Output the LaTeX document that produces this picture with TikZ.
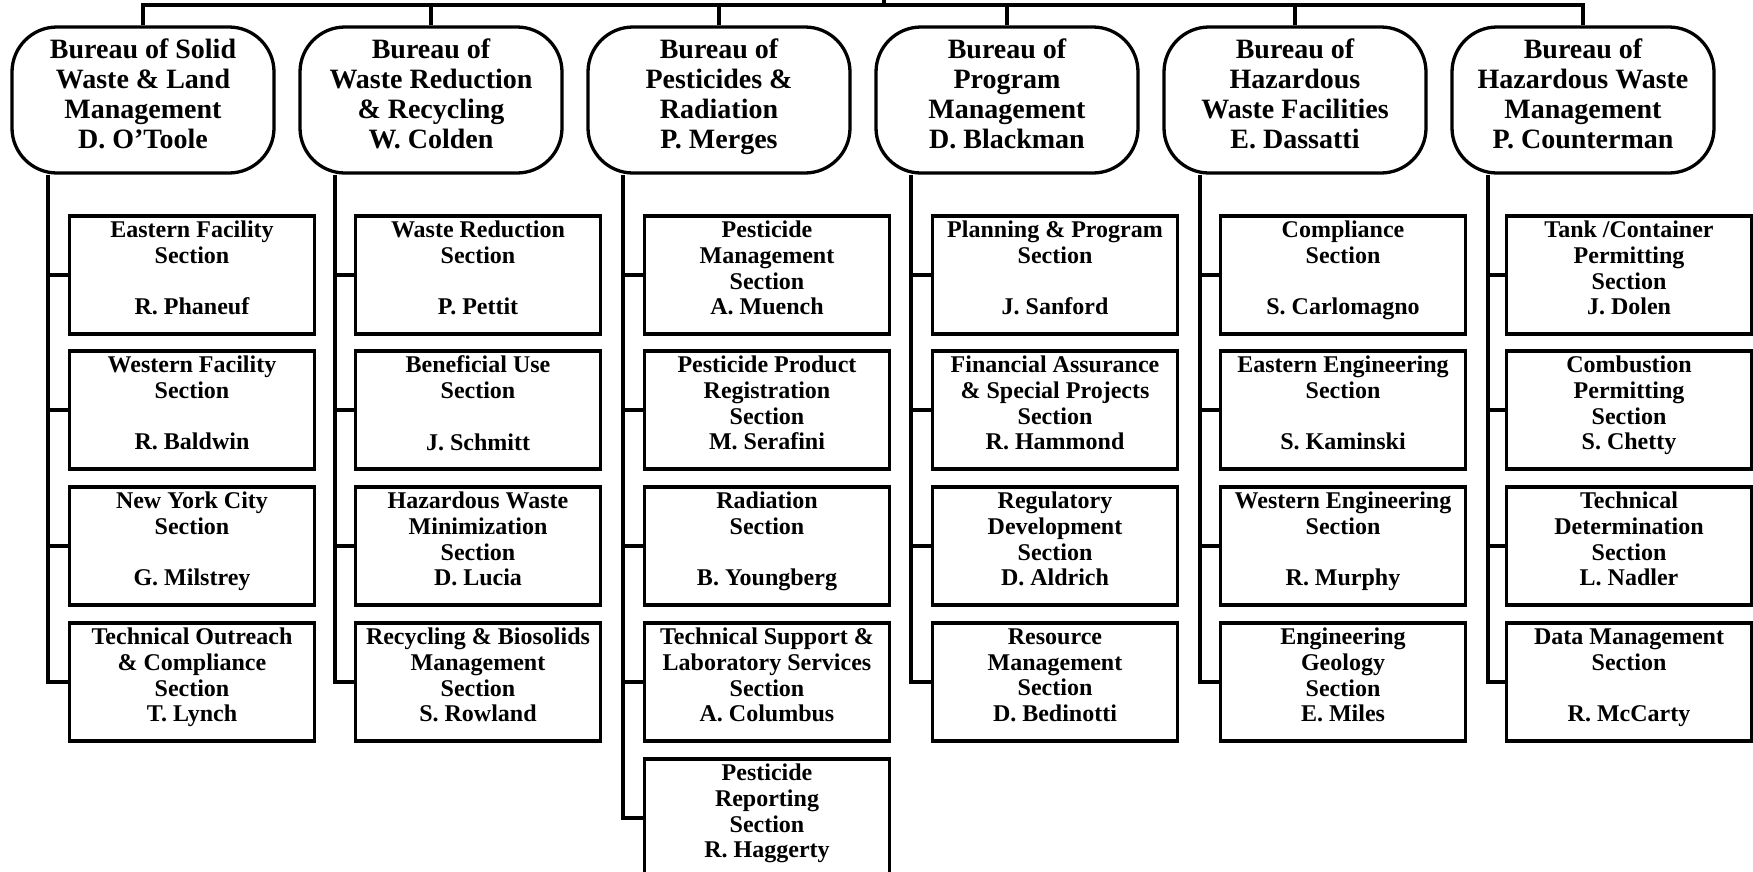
\documentclass[tikz,border=0pt]{standalone}
\usepackage{fontspec}
\setmainfont{Liberation Serif}
\begin{document}
\begin{tikzpicture}[x=1pt,y=-1pt,line width=3.3pt,
  bureau/.style={draw, rounded corners=45pt, minimum width=262pt, minimum height=146pt,
    align=center, inner sep=0pt, text depth=13pt, font=\fontsize{28}{30}\selectfont\bfseries},
  sect/.style={draw, minimum width=245pt, minimum height=118pt,
    align=center, inner sep=0pt, text depth=14pt, font=\fontsize{24}{25.7}\selectfont\bfseries},
  link/.style={line width=3.3pt}]
\useasboundingbox (0,0) rectangle (1753,871);

% bureaus
\node[bureau] (b1) at (143,100) {Bureau of Solid\\Waste \& Land\\Management\\D. O'Toole};
\node[bureau] (b2) at (431,100) {Bureau of\\Waste Reduction\\\& Recycling\\W. Colden};
\node[bureau] (b3) at (719,100) {Bureau of\\Pesticides \&\\Radiation\\P. Merges};
\node[bureau] (b4) at (1007,100) {Bureau of\\Program\\Management\\D. Blackman};
\node[bureau] (b5) at (1295,100) {Bureau of\\Hazardous\\Waste Facilities\\E. Dassatti};
\node[bureau] (b6) at (1583,100) {Bureau of\\Hazardous Waste\\Management\\P. Counterman};

% spine coordinates
\coordinate (p1) at (48,0);
\coordinate (p2) at (335,0);
\coordinate (p3) at (623,0);
\coordinate (p4) at (911,0);
\coordinate (p5) at (1200,0);
\coordinate (p6) at (1488,0);

% column 1
\node[sect] (s1-1) at (192,275) {Eastern Facility\\Section\\~\\R. Phaneuf};
\node[sect] (s1-2) at (192,410) {Western Facility\\Section\\~\\R. Baldwin};
\node[sect] (s1-3) at (192,546) {New York City\\Section\\~\\G. Milstrey};
\node[sect] (s1-4) at (192,682) {Technical Outreach\\\& Compliance\\Section\\T. Lynch};
% column 2
\node[sect] (s2-1) at (478,275) {Waste Reduction\\Section\\~\\P. Pettit};
\node[sect] (s2-2) at (478,410) {Beneficial Use\\Section\\~\\J. Schmitt};
\node[sect] (s2-3) at (478,546) {Hazardous Waste\\Minimization\\Section\\D. Lucia};
\node[sect] (s2-4) at (478,682) {Recycling \& Biosolids\\Management\\Section\\S. Rowland};
% column 3
\node[sect] (s3-1) at (767,275) {Pesticide\\Management\\Section\\A. Muench};
\node[sect] (s3-2) at (767,410) {Pesticide Product\\Registration\\Section\\M. Serafini};
\node[sect] (s3-3) at (767,546) {Radiation\\Section\\~\\B. Youngberg};
\node[sect] (s3-4) at (767,682) {Technical Support \&\\Laboratory Services\\Section\\A. Columbus};
\node[sect] (s3-5) at (767,818) {Pesticide\\Reporting\\Section\\R. Haggerty};
% column 4
\node[sect] (s4-1) at (1055,275) {Planning \& Program\\Section\\~\\J. Sanford};
\node[sect] (s4-2) at (1055,410) {Financial Assurance\\\& Special Projects\\Section\\R. Hammond};
\node[sect] (s4-3) at (1055,546) {Regulatory\\Development\\Section\\D. Aldrich};
\node[sect] (s4-4) at (1055,682) {Resource\\Management\\Section\\D. Bedinotti};
% column 5
\node[sect] (s5-1) at (1343,275) {Compliance\\Section\\~\\S. Carlomagno};
\node[sect] (s5-2) at (1343,410) {Eastern Engineering\\Section\\~\\S. Kaminski};
\node[sect] (s5-3) at (1343,546) {Western Engineering\\Section\\~\\R. Murphy};
\node[sect] (s5-4) at (1343,682) {Engineering\\Geology\\Section\\E. Miles};
% column 6
\node[sect] (s6-1) at (1629,275) {Tank /Container\\Permitting\\Section\\J. Dolen};
\node[sect] (s6-2) at (1629,410) {Combustion\\Permitting\\Section\\S. Chetty};
\node[sect] (s6-3) at (1629,546) {Technical\\Determination\\Section\\L. Nadler};
\node[sect] (s6-4) at (1629,682) {Data Management\\Section\\~\\R. McCarty};

% top bus
\coordinate (root) at (884,0);
\coordinate (bus) at (884,5);
\draw[link] (root) -- (bus);
\foreach \c in {1,...,6} \draw[link] (bus) -| (b\c.north);

% spines
\foreach \c/\n in {1/4,2/4,3/5,4/4,5/4,6/4} {
  \draw[link] (b\c.south -| p\c) |- (s\c-\n.west);
  \foreach \r in {1,...,\n} \draw[link] (s\c-\r.west) -- (s\c-\r.west -| p\c);
}
\end{tikzpicture}
\end{document}
